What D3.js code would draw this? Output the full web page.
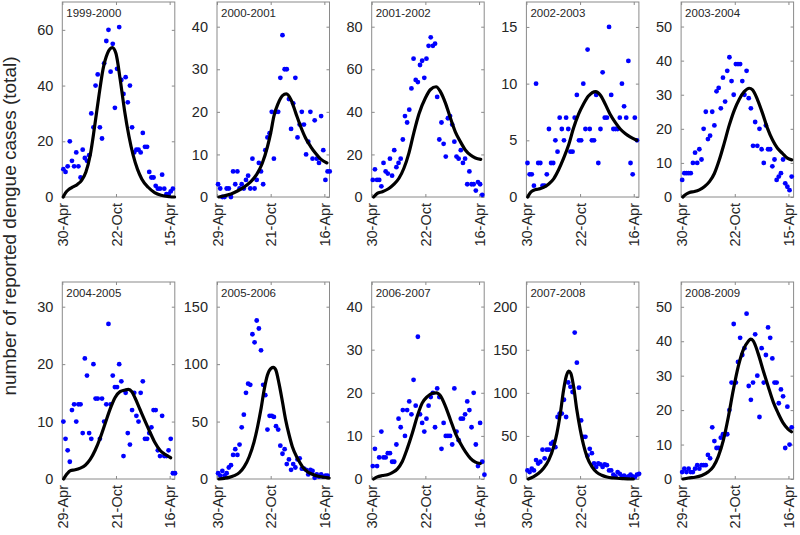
<!DOCTYPE html>
<html>
<head>
<meta charset="utf-8">
<script src="https://cdn.jsdelivr.net/npm/d3@7"></script>
<style>
  html, body { margin: 0; padding: 0; background: #fff; }
  svg { display: block; font-family: "Liberation Sans", Arial, Helvetica, sans-serif; }
</style>
</head>
<body>
<svg id="chart" width="800" height="535"></svg>
<script>
// ---------------- DATA ----------------
const seasons = ["1999-2000","2000-2001","2001-2002","2002-2003","2003-2004",
                 "2004-2005","2005-2006","2006-2007","2007-2008","2008-2009"];

const xTickLabels = [
  ["30-Apr","22-Oct","15-Apr"], ["29-Apr","21-Oct","16-Apr"], ["30-Apr","22-Oct","16-Apr"],
  ["30-Apr","22-Oct","16-Apr"], ["30-Apr","22-Oct","15-Apr"], ["29-Apr","21-Oct","16-Apr"],
  ["30-Apr","22-Oct","16-Apr"], ["30-Apr","22-Oct","16-Apr"], ["30-Apr","22-Oct","15-Apr"],
  ["29-Apr","21-Oct","16-Apr"]
];
const xTickWeeks = [0, 25, 50];

const yMax = [70, 45.8, 91.6, 17.2, 57.2, 34.3, 171.5, 45.7, 228.7, 57.2];
const yTicks = [
  [0,20,40,60], [0,10,20,30,40], [0,20,40,60,80], [0,5,10,15], [0,10,20,30,40,50],
  [0,10,20,30], [0,50,100,150], [0,10,20,30,40], [0,50,100,150,200], [0,10,20,30,40,50]
];

// weekly reported cases
const cases_1999_2000 = [10,9,11,20,13,11,16,11,7,17,14,13,15,30,25,40,44,25,21,48,56,60,45,55,32,46,61,42,37,43,34,40,25,16,17,17,16,23,18,18,9,7,7,4,3,3,8,3,1,1,2,3];
const cases_2000_2001 = [3,2,0,0,2,2,0,6,3,6,2,3,2,4,5,2,9,2,4,8,6,3,11,14,15,20,9,20,20,28,38,30,30,23,16,22,28,14,17,20,17,10,13,20,9,18,9,8,19,11,4,6,6];
const cases_2001_2002 = [8,13,8,8,5,16,12,11,18,10,22,14,16,18,27,38,35,41,51,65,55,54,62,64,56,65,71,75,71,72,47,27,35,25,19,37,38,34,26,19,18,22,16,18,6,12,6,6,3,7,6,1];
const cases_2002_2003 = [3,2,2,1,10,3,3,1,1,2,6,3,3,5,4,7,6,5,7,6,4,4,7,9,5,5,10,6,13,6,5,5,9,3,6,11,7,7,15,9,6,6,6,7,10,8,7,12,3,2,7,5];
const cases_2003_2004 = [5,7,7,7,7,10,13,10,14,11,20,25,17,18,25,21,31,32,26,35,28,37,41,34,30,39,39,39,34,30,37,29,26,15,22,15,20,14,10,21,14,14,9,11,5,6,7,11,4,3,2,6];
const cases_2004_2005 = [10,7,5,3,12,13,10,13,13,8,21,18,8,7,20,14,14,7,14,10,13,27,13,18,16,16,20,17,4,15,8,6,12,15,11,10,15,17,7,7,8,9,12,12,5,4,11,4,4,5,7,1,1];
const cases_2005_2006 = [5,3,7,3,5,10,12,21,26,21,30,45,56,75,83,82,126,119,138,131,112,82,73,43,55,55,54,46,43,29,22,26,13,17,8,13,10,17,18,9,9,8,4,8,7,1,4,2,4,2,3,3];
const cases_2006_2007 = [3,7,3,5,11,5,5,6,6,4,4,8,14,12,16,10,16,18,15,23,17,33,15,13,11,14,17,19,20,12,21,19,7,13,10,10,10,8,21,11,9,14,14,15,18,16,12,20,8,3,13,4,1];
const cases_2007_2008 = [10,8,12,10,22,18,20,34,24,34,34,41,43,37,72,76,76,92,72,112,107,101,170,135,106,68,49,49,27,35,30,18,14,18,17,14,17,16,10,10,5,3,8,6,3,4,2,3,5,3,2,5,6];
const cases_2008_2009 = [2,3,2,3,2,2,3,4,3,4,4,4,7,6,15,11,9,9,12,13,13,13,20,28,45,28,34,41,36,38,48,27,23,28,42,30,18,38,28,36,44,41,35,28,28,22,26,24,9,21,10,15];

// fitted model curve: [week, cases]
const fit_1999_2000 = [[0.4,0],[1.5,1.5],[3,2.7],[5,3.6],[7,4.5],[9,6],[11,9],[13,15],[15,25],[17,36],[19,46],[21,51.5],[23.3,53.6],[25,51.5],[27,42],[29,31],[31,22],[33,15],[35,10],[37,6.5],[40,3.5],[43,1.6],[46,0.6],[50,0.1],[52.3,0]];
const fit_2000_2001 = [[0.9,0],[3.5,0.3],[6.5,0.7],[9.5,1.4],[12.5,2.3],[15.5,3.5],[18.5,5.3],[21,7.8],[23.5,11.8],[25,15],[26.5,19],[28.5,22],[30.5,23.8],[32.3,24.2],[34.5,22.8],[36.7,19.7],[39,16.5],[41.3,13.8],[43.7,11.8],[46,10.2],[48.3,8.9],[51.2,8]];
const fit_2001_2002 = [[0.9,0],[2.6,1.7],[5,2.5],[8,4],[10.4,6],[12.7,8.8],[15,13.5],[17.3,20.5],[19.7,30.5],[22,39],[25,46.5],[27.4,50.5],[30,51.8],[32,49.5],[34.4,44],[36.7,37],[39,30.5],[41.3,26],[43.7,22],[46,19.7],[48.3,18.3],[50.8,17.7]];
const fit_2002_2003 = [[0.6,0],[1.9,0.4],[3.4,0.6],[5.7,0.7],[8,0.85],[10.4,1.15],[12.7,1.6],[15,2.4],[17.3,3.4],[19.7,4.6],[22,6.1],[24.3,7.3],[26.6,8.2],[28.9,8.9],[32.3,9.3],[34.4,9.0],[36.7,8.2],[39,7.3],[41.3,6.6],[43.7,6.0],[46,5.6],[48.3,5.3],[51.4,5.0]];
const fit_2003_2004 = [[0.8,0],[2.3,0.8],[3.9,1.3],[6.2,1.6],[8.5,2.1],[10.8,3],[13.2,4.5],[15.5,6.9],[17.8,10.9],[20.1,15.8],[22.4,21],[24.8,25.5],[27.1,28.7],[29.4,30.9],[31.7,31.9],[33.3,31.4],[35.6,28.5],[37.9,24.6],[40.2,20.2],[42.6,16.7],[44.9,14.3],[47.2,12.8],[49.5,11.4],[51.5,10.9]];
const fit_2004_2005 = [[0.6,0],[2.2,0.9],[3.7,1.45],[6,1.6],[8.4,1.9],[10.7,2.4],[13,3.4],[15.3,5],[17.6,7.1],[20,9.7],[22.3,12.2],[24.6,14.2],[26.9,15.2],[29.3,15.5],[30.8,15.6],[32.4,15.2],[33.9,14.1],[36.2,12.1],[38.5,10.1],[40.9,8.1],[43.2,6.3],[45.5,5],[47.8,4.3],[50.5,3.7]];
const fit_2005_2006 = [[0.9,0],[3.4,0.6],[5.7,1.4],[8,2.9],[10.4,5.5],[12.7,10.7],[15,19.4],[17.3,32.5],[18.9,45.5],[20.4,60],[22,78],[23.5,90.5],[25.1,96.3],[26.3,97.2],[27.4,94.9],[28.9,83],[30.5,67],[32,51.3],[33.6,38.3],[35.1,28.1],[37.5,18],[39.8,10.7],[42.1,6.4],[44.4,4.1],[46.7,2.6],[49.8,1.5],[52.2,0.9]];
const fit_2006_2007 = [[0.9,0],[2.6,0.5],[5,0.8],[7.3,1.0],[9.6,1.5],[11.9,2.3],[14.2,4],[16.6,7.1],[18.9,10.6],[21.2,14.5],[23.5,17.6],[25.9,19.1],[28.2,19.9],[30.2,20],[32,19.3],[34.4,16.8],[36.7,13.7],[39,10.6],[41.3,8.3],[43.7,6.3],[46,4.8],[48.3,3.9],[50.6,3.6]];
const fit_2007_2008 = [[0.9,0],[3.4,2.7],[5.7,6.6],[8,12.4],[10.4,22],[12.7,37.5],[14.2,53],[15.8,76],[17.3,103],[18.6,119.5],[19.7,125.3],[20.7,122.6],[22,107],[23.5,80],[25.1,57],[26.6,39.5],[28.2,26],[30.5,14.3],[32.8,7.7],[35.1,4.3],[37.5,2.3],[40.6,1.2],[45.2,0.4],[49.8,0]];
const fit_2008_2009 = [[0.9,0],[3.4,0.3],[6.5,0.5],[9.6,1.0],[12.7,2.1],[15,3.6],[17.3,6.5],[19.7,11.3],[22,18],[24.3,25.8],[26.6,32.6],[28.9,37.4],[31.3,40],[32.4,40.6],[33.6,40.1],[35.9,36.4],[38.2,31.6],[40.6,26.8],[42.9,22.4],[45.2,19.1],[47.5,16.3],[49.8,14.5],[51.4,13.7]];

const allCases = [cases_1999_2000, cases_2000_2001, cases_2001_2002, cases_2002_2003, cases_2003_2004,
                  cases_2004_2005, cases_2005_2006, cases_2006_2007, cases_2007_2008, cases_2008_2009];
const allFits = [fit_1999_2000, fit_2000_2001, fit_2001_2002, fit_2002_2003, fit_2003_2004,
                 fit_2004_2005, fit_2005_2006, fit_2006_2007, fit_2007_2008, fit_2008_2009];

const yLabelText = "number of reported dengue cases (total)";

// ---------------- LAYOUT ----------------
const svg = d3.select("#chart");
const panelLeft0 = 62.3, panelStep = 154.7, panelW = 112.5;
const rowTop = [2, 282], rowBottom = [197, 479];
const xDomain = [0, 52.4];
const textColor = "#262626", frameColor = "#8a8a8a";

seasons.forEach((title, k) => {
  const row = Math.floor(k / 5), col = k % 5;
  const left = panelLeft0 + col * panelStep;
  const top = rowTop[row], bottom = rowBottom[row];

  const x = d3.scaleLinear().domain(xDomain).range([left, left + panelW]);
  const y = d3.scaleLinear().domain([0, yMax[k]]).range([bottom, top]);

  const g = svg.append("g");

  // frame
  g.append("rect")
    .attr("x", left).attr("y", top)
    .attr("width", panelW).attr("height", bottom - top)
    .attr("fill", "none").attr("stroke", frameColor).attr("stroke-width", 1);

  // y axis (left) with inward ticks
  const yAxisL = d3.axisLeft(y).tickValues(yTicks[k]).tickSize(-3).tickPadding(9).tickFormat(d3.format("d"));
  const gyl = g.append("g").attr("transform", `translate(${left},0)`).call(yAxisL);
  gyl.select(".domain").remove();
  gyl.selectAll("line").attr("stroke", frameColor);
  gyl.selectAll("text").attr("fill", textColor).style("font-size", "14.5px");

  const yAxisR = d3.axisRight(y).tickValues(yTicks[k]).tickSize(-3).tickFormat("");
  const gyr = g.append("g").attr("transform", `translate(${left + panelW},0)`).call(yAxisR);
  gyr.select(".domain").remove();
  gyr.selectAll("line").attr("stroke", frameColor);

  // x axis (bottom) with inward ticks and rotated labels
  const xAxisB = d3.axisBottom(x).tickValues(xTickWeeks).tickSize(-3).tickFormat((d, i) => xTickLabels[k][i]);
  const gxb = g.append("g").attr("transform", `translate(0,${bottom})`).call(xAxisB);
  gxb.select(".domain").remove();
  gxb.selectAll("line").attr("stroke", frameColor);
  gxb.selectAll("text")
    .attr("fill", textColor).style("font-size", "14.5px")
    .attr("text-anchor", "end")
    .attr("transform", "rotate(-90)")
    .attr("x", -6).attr("y", 0).attr("dy", "0.35em");

  const xAxisT = d3.axisTop(x).tickValues(xTickWeeks).tickSize(-3).tickFormat("");
  const gxt = g.append("g").attr("transform", `translate(0,${top})`).call(xAxisT);
  gxt.select(".domain").remove();
  gxt.selectAll("line").attr("stroke", frameColor);

  // dots
  g.append("g").selectAll("circle")
    .data(allCases[k])
    .join("circle")
    .attr("cx", (d, i) => x(i + 0.5))
    .attr("cy", d => y(d))
    .attr("r", 2.4)
    .attr("fill", "#0000ff");

  // fitted curve
  const line = d3.line().x(d => x(d[0])).y(d => y(d[1])).curve(d3.curveMonotoneX);
  g.append("path")
    .datum(allFits[k])
    .attr("d", line)
    .attr("fill", "none")
    .attr("stroke", "#000")
    .attr("stroke-width", 3.2)
    .attr("stroke-linejoin", "round")
    .attr("stroke-linecap", "round");

  // panel title
  g.append("text")
    .attr("x", left + 4).attr("y", top + 14.5)
    .attr("fill", textColor)
    .style("font-size", "11.5px")
    .text(title);
});

// y label
svg.append("text")
  .attr("transform", "translate(16,226) rotate(-90)")
  .attr("text-anchor", "middle")
  .attr("fill", textColor)
  .style("font-size", "19px")
  .text(yLabelText);
</script>
</body>
</html>
